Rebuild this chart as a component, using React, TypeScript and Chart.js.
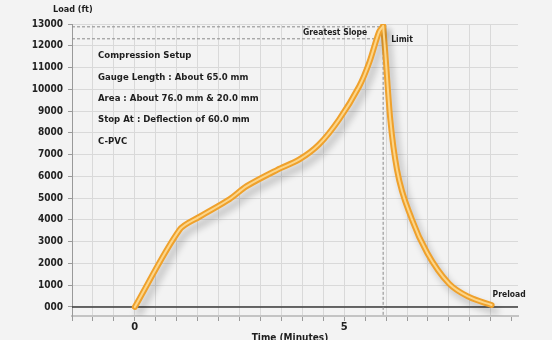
import React, { useEffect, useRef } from "react";
import { Chart, registerables } from "chart.js";

Chart.register(...registerables);

// ---- data ----
const riseTime = [0, 1.07, 1.55, 2.26, 2.67, 3.4, 3.93, 4.4, 4.88, 5.36, 5.6, 5.83, 5.93];
const riseLoad = [0, 3550, 4150, 4950, 5550, 6300, 6780, 7470, 8620, 10140, 11240, 12630, 12900];
const fallTime = [5.93, 5.98, 6.1, 6.26, 6.62, 6.98, 7.5, 7.98, 8.52];
const fallLoad = [12900, 11700, 8620, 6310, 4010, 2490, 1080, 460, 90];

const yTickValues = [0, 1000, 2000, 3000, 4000, 5000, 6000, 7000, 8000, 9000, 10000, 11000, 12000, 13000];
const yTickLabels = ["000", "1000", "2000", "3000", "4000", "5000", "6000", "7000", "8000", "9000", "10000", "11000", "12000", "13000"];
const xTickValues = [-1.5, -1, -0.5, 0, 0.5, 1, 1.5, 2, 2.5, 3, 3.5, 4, 4.5, 5, 5.5, 6, 6.5, 7, 7.5, 8, 8.5, 9];
const xLabelled = [0, 5];

const peakTime = 5.93;
const peakLoad = 12870;
const slopeLoad = 12320;
const slopeEndTime = 5.8;
const preloadTime = 8.52;
const preloadLoad = 90;

const infoLines = [
  "Compression Setup",
  "Gauge Length : About 65.0 mm",
  "Area : About 76.0 mm & 20.0 mm",
  "Stop At : Deflection of 60.0 mm",
  "C-PVC",
];

const FONT = '"Liberation Sans Narrow", "DejaVu Sans Condensed", "Liberation Sans", sans-serif';
const OUTER = "#efa12c";
const INNER = "#fcd68a";

const toPts = (xs: number[], ys: number[]) => xs.map((x, i) => ({ x, y: ys[i] }));

export default function App() {
  const ref = useRef<HTMLCanvasElement | null>(null);

  useEffect(() => {
    if (!ref.current) return;

    const shadowPlugin = {
      id: "shadow",
      beforeDatasetDraw(chart: any, args: any) {
        const ctx = chart.ctx;
        ctx.save();
        if (args.index >= 2) {
          ctx.shadowColor = "rgba(0,0,0,0.22)";
          ctx.shadowBlur = 7;
          ctx.shadowOffsetX = 4;
          ctx.shadowOffsetY = 6;
        }
      },
      afterDatasetDraw(chart: any) {
        chart.ctx.restore();
      },
    };

    const overlay = {
      id: "overlay",
      beforeDatasetsDraw(chart: any) {
        const { ctx, chartArea, scales } = chart;
        const xs = scales.x, ys = scales.y;
        ctx.save();
        ctx.strokeStyle = "#3a3a3a";
        ctx.lineWidth = 1.5;
        ctx.beginPath();
        ctx.moveTo(chartArea.left, ys.getPixelForValue(0));
        ctx.lineTo(chartArea.right, ys.getPixelForValue(0));
        ctx.stroke();
        ctx.strokeStyle = "#8a8a8a";
        ctx.lineWidth = 1;
        ctx.setLineDash([3, 2]);
        ctx.beginPath();
        ctx.moveTo(chartArea.left, ys.getPixelForValue(peakLoad));
        ctx.lineTo(xs.getPixelForValue(peakTime), ys.getPixelForValue(peakLoad));
        ctx.moveTo(chartArea.left, ys.getPixelForValue(slopeLoad));
        ctx.lineTo(xs.getPixelForValue(slopeEndTime), ys.getPixelForValue(slopeLoad));
        ctx.moveTo(xs.getPixelForValue(peakTime), ys.getPixelForValue(peakLoad));
        ctx.lineTo(xs.getPixelForValue(peakTime), chartArea.bottom);
        ctx.stroke();
        ctx.restore();
      },
      afterDraw(chart: any) {
        const { ctx, scales } = chart;
        const xs = scales.x, ys = scales.y;
        ctx.save();
        ctx.fillStyle = "#1e1e1e";
        ctx.textBaseline = "middle";
        ctx.font = `bold 9.5px ${FONT}`;
        ctx.textAlign = "left";
        infoLines.forEach((t, i) => ctx.fillText(t, 98, 56 + i * 21.3));
        ctx.font = `bold 8.5px ${FONT}`;
        ctx.textAlign = "center";
        ctx.fillText("Greatest Slope", xs.getPixelForValue(peakTime) - 48, ys.getPixelForValue((peakLoad + slopeLoad) / 2));
        ctx.textAlign = "left";
        ctx.fillText("Limit", xs.getPixelForValue(peakTime) + 8, ys.getPixelForValue(peakLoad) + 13);
        ctx.fillText("Preload", xs.getPixelForValue(preloadTime) + 1, ys.getPixelForValue(preloadLoad) - 10);
        ctx.font = `bold 9px ${FONT}`;
        ctx.textAlign = "left";
        ctx.fillText("Load (ft)", 53, 10);
        ctx.textAlign = "center";
        ctx.font = `bold 10px ${FONT}`;
        ctx.fillText("Time (Minutes)", 290, 338);
        ctx.restore();
      },
    };

    const lineDs = (data: any, color: string, width: number, mono: boolean) => ({
      data,
      borderColor: color,
      borderWidth: width,
      pointRadius: 0,
      fill: false,
      tension: 0.3,
      cubicInterpolationMode: mono ? ("monotone" as const) : ("default" as const),
      borderCapStyle: "round" as const,
      borderJoinStyle: "round" as const,
    });

    // Chart.js draws dataset 0 last (on top): inner strokes first in the list.
    const chart = new Chart(ref.current, {
      type: "line",
      data: {
        datasets: [
          lineDs(toPts(riseTime, riseLoad), INNER, 2, false),
          lineDs(toPts(fallTime, fallLoad), INNER, 2, true),
          lineDs(toPts(riseTime, riseLoad), OUTER, 6, false),
          lineDs(toPts(fallTime, fallLoad), OUTER, 6, true),
        ] as any,
      },
      options: {
        animation: false,
        responsive: false,
        maintainAspectRatio: false,
        layout: { padding: { top: 24, right: 34, bottom: 0, left: 0 } },
        plugins: { legend: { display: false }, tooltip: { enabled: false } },
        scales: {
          x: {
            type: "linear",
            min: -1.5,
            max: 9.15,
            afterBuildTicks(scale: any) {
              scale.ticks = xTickValues.map((v) => ({ value: v }));
            },
            afterFit(scale: any) {
              scale.height = 24;
            },
            ticks: {
              autoSkip: false,
              maxRotation: 0,
              padding: 0,
              color: "#222",
              font: { family: FONT, size: 11, weight: "bold" },
              callback: (v: any) => (xLabelled.includes(Number(v)) ? String(v) : ""),
            },
            grid: {
              color: (c: any) => (c.tick && c.tick.value > 8.6 ? "rgba(0,0,0,0)" : "#d9d9d9"),
              tickColor: "#9a9a9a",
              tickLength: 5,
              lineWidth: 1,
            },
            border: { color: "#c4c4c4", width: 2 },
          },
          y: {
            type: "linear",
            min: -415,
            max: 13000,
            afterBuildTicks(scale: any) {
              scale.ticks = yTickValues.map((v) => ({ value: v }));
            },
            afterFit(scale: any) {
              scale.width = 72;
            },
            ticks: {
              autoSkip: false,
              padding: 5,
              color: "#222",
              font: { family: FONT, size: 10, weight: "bold" },
              callback: (v: any) => {
                const i = yTickValues.indexOf(Number(v));
                return i >= 0 ? yTickLabels[i] : "";
              },
            },
            grid: {
              color: "#d9d9d9",
              tickColor: "#9a9a9a",
              tickLength: 4,
              lineWidth: 1,
            },
            border: { color: "#9a9a9a", width: 1 },
          },
        },
      },
      plugins: [overlay, shadowPlugin],
    });
    return () => chart.destroy();
  }, []);

  return (
    <div style={{ position: "fixed", left: 0, top: 0, width: 552, height: 340, background: "#f3f3f3" }}>
      <canvas ref={ref} width={552} height={340} style={{ width: 552, height: 340, display: "block" }} />
    </div>
  );
}
